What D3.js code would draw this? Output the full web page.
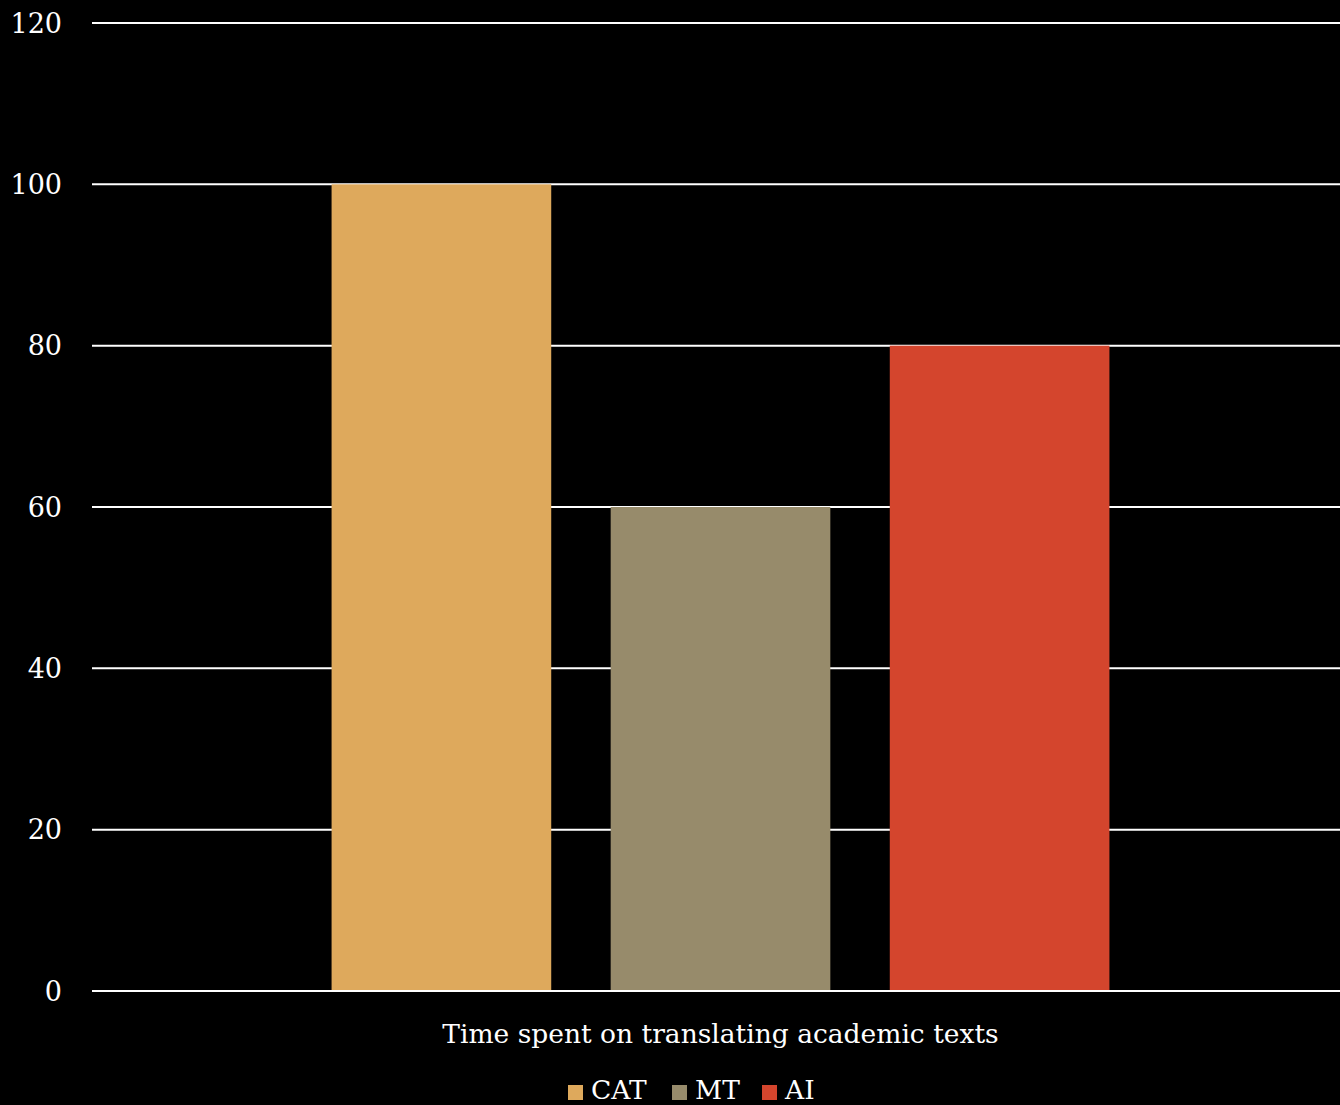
<!DOCTYPE html>
<html>
<head>
<meta charset="utf-8">
<script src="https://cdn.jsdelivr.net/npm/d3@7"></script>
<style>
  html, body { margin: 0; padding: 0; background: #000; overflow: hidden; }
  svg text { font-family: "DejaVu Serif", "Liberation Serif", serif; fill: #fff; }
</style>
</head>
<body>
<svg id="chart" width="1340" height="1105"></svg>
<script>
// Category on the x axis (only one group)
var categories = ["Time spent on translating academic texts"];
// Series names and colours
var series = ["CAT", "MT", "AI"];
var colors = ["#dea95c", "#978b6b", "#d4452d"];
// Values for each series, one per category
var values = {
	CAT: [100],
	MT: [60],
	AI: [80]
};
var yTicks = [0, 20, 40, 60, 80, 100, 120];

function draw() {
	const svg = d3.select("#chart");
	const W = 1340, H = 1105;
	svg.append("rect").attr("width", W).attr("height", H).attr("fill", "#000");

	// plot area runs a bit past the right edge, like the original
	const left = 92, right = 1349, top = 23, bottom = 991;

	const y = d3.scaleLinear().domain([0, 120]).range([bottom, top]);
	const x0 = d3.scaleBand().domain(categories).range([left, right])
		.paddingInner(0).paddingOuter(0.308);
	const x1 = d3.scaleBand().domain(series).range([0, x0.bandwidth()])
		.paddingInner(0.213).paddingOuter(0);
	const color = d3.scaleOrdinal().domain(series).range(colors);

	// gridlines
	svg.append("g")
		.selectAll("line")
		.data(yTicks)
		.join("line")
		.attr("x1", left)
		.attr("x2", W)
		.attr("y1", d => y(d))
		.attr("y2", d => y(d))
		.attr("stroke", "#fff")
		.attr("stroke-width", 2);

	// tick labels
	svg.append("g")
		.selectAll("text")
		.data(yTicks)
		.join("text")
		.attr("x", 62)
		.attr("y", d => y(d))
		.attr("dy", "0.36em")
		.attr("text-anchor", "end")
		.attr("font-size", 27)
		.text(d => d);

	// bars
	const rows = [];
	categories.forEach((c, i) => {
		series.forEach(s => rows.push({cat: c, key: s, value: values[s][i]}));
	});
	svg.append("g")
		.selectAll("rect")
		.data(rows)
		.join("rect")
		.attr("x", d => x0(d.cat) + x1(d.key))
		.attr("width", x1.bandwidth())
		.attr("y", d => y(d.value))
		.attr("height", d => y(0) - y(d.value) - 1)
		.attr("fill", d => color(d.key));

	// category label
	svg.append("g")
		.selectAll("text")
		.data(categories)
		.join("text")
		.attr("x", d => x0(d) + x0.bandwidth() / 2)
		.attr("y", 1043)
		.attr("text-anchor", "middle")
		.attr("font-size", 26.5)
		.text(d => d);

	// legend
	const legendX = [568, 672, 762];
	const lg = svg.append("g")
		.selectAll("g")
		.data(series)
		.join("g")
		.attr("transform", (d, i) => `translate(${legendX[i]}, 0)`);
	lg.append("rect")
		.attr("x", 0)
		.attr("y", 1085)
		.attr("width", 15)
		.attr("height", 15)
		.attr("fill", d => color(d));
	lg.append("text")
		.attr("x", 23)
		.attr("y", 1099)
		.attr("font-size", 26.5)
		.text(d => d);
}

if (document.readyState !== "loading") {
	draw();
} else {
	document.addEventListener("DOMContentLoaded", draw);
}
</script>
</body>
</html>
